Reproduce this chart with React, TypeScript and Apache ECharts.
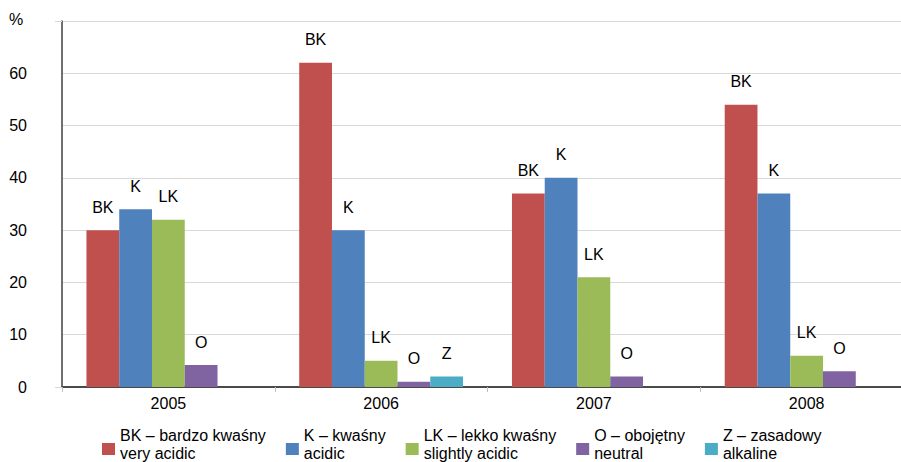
import React, { useEffect, useRef } from "react";
import * as echarts from "echarts";

// Soil reaction classes by year (% of samples)
const years = ["2005", "2006", "2007", "2008"];
const codes = ["BK", "K", "LK", "O", "Z"];
const bkValues = [30, 62, 37, 54];
const kValues = [34, 30, 40, 37];
const lkValues = [32, 5, 21, 6];
const oValues = [4.2, 1, 2, 3];
const zValues: (number | null)[] = [null, 2, null, null];
const legendNames = [
  "BK – bardzo kwaśny\nvery acidic",
  "K – kwaśny\nacidic",
  "LK – lekko kwaśny\nslightly acidic",
  "O – obojętny\nneutral",
  "Z – zasadowy\nalkaline",
];
const colors = ["#C0504D", "#4F81BD", "#9BBB59", "#8064A2", "#4BACC6"];
const yTicks = [0, 10, 20, 30, 40, 50, 60, 70];

const FONT = "'Liberation Sans', Arial, sans-serif";
const AXIS_DARK = "#404040";
const GRID_LIGHT = "#d9d9d9";

export default function App() {
  const ref = useRef<HTMLDivElement>(null);

  useEffect(() => {
    if (!ref.current) return;
    const chart = echarts.init(ref.current, undefined, { renderer: "svg" });
    const seriesValues = [bkValues, kValues, lkValues, oValues, zValues];

    chart.setOption({
      animation: false,
      textStyle: { fontFamily: FONT, color: "#000" },
      title: {
        text: "%",
        left: 9,
        top: 11,
        padding: 0,
        textStyle: { fontFamily: FONT, fontSize: 16, fontWeight: "normal", color: "#000" },
      },
      // the plot runs past the right edge of the canvas, so the grid is not
      // squeezed back inside it
      grid: {
        left: 62,
        top: 21,
        width: 851,
        bottom: 75,
        containLabel: false,
        outerBoundsMode: "none",
      },
      legend: {
        left: 97,
        top: 421,
        itemGap: 20,
        itemWidth: 13,
        itemHeight: 22,
        // square sits level with the second (English) line of each entry
        icon: "path://M0,-10L13,-10Z M0,0L13,0L13,12L0,12Z",
        itemStyle: { borderWidth: 0 },
        data: codes,
        formatter: (name: string) => legendNames[codes.indexOf(name)],
        textStyle: { fontFamily: FONT, fontSize: 16, lineHeight: 18, color: "#000" },
      },
      xAxis: [
        {
          type: "category",
          data: years,
          axisLine: { lineStyle: { color: AXIS_DARK, width: 1.5 } },
          axisTick: { show: true, length: 5, interval: 0, lineStyle: { color: "#bfbfbf" } },
          axisLabel: { fontFamily: FONT, fontSize: 16, color: "#000", margin: 8 },
        },
        {
          type: "category",
          data: years,
          position: "top",
          axisLine: { show: true, lineStyle: { color: AXIS_DARK, width: 1.5 } },
          axisTick: { show: false },
          axisLabel: { show: false },
        },
      ],
      yAxis: [
        {
          type: "value",
          min: yTicks[0],
          max: yTicks[yTicks.length - 1],
          interval: 10,
          axisLine: { show: true, lineStyle: { color: AXIS_DARK, width: 1.5 } },
          axisTick: { show: false },
          axisLabel: {
            fontFamily: FONT,
            fontSize: 16,
            color: "#000",
            margin: 35,
            formatter: (v: number) => (v === 70 ? "" : String(v)),
          },
          splitLine: { show: true, lineStyle: { color: GRID_LIGHT, width: 1 } },
        },
        {
          type: "value",
          min: 0,
          max: 70,
          interval: 70,
          position: "left",
          axisLine: { show: false },
          axisTick: { show: true, length: 7, lineStyle: { color: GRID_LIGHT } },
          axisLabel: { show: false },
          splitLine: { show: false },
        },
      ],
      series: codes.map((code, i) => ({
        name: code,
        type: "bar",
        xAxisIndex: 0,
        yAxisIndex: 0,
        data: seriesValues[i],
        barGap: "0%",
        barCategoryGap: "23%",
        itemStyle: { color: colors[i] },
        label: {
          show: true,
          position: "top",
          distance: 15,
          fontFamily: FONT,
          fontSize: 16,
          color: "#000",
          formatter: () => code,
        },
      })),
    });

    return () => chart.dispose();
  }, []);

  return (
    <div
      ref={ref}
      style={{ position: "fixed", left: 0, top: 0, width: 901, height: 462, background: "#fff" }}
    />
  );
}
